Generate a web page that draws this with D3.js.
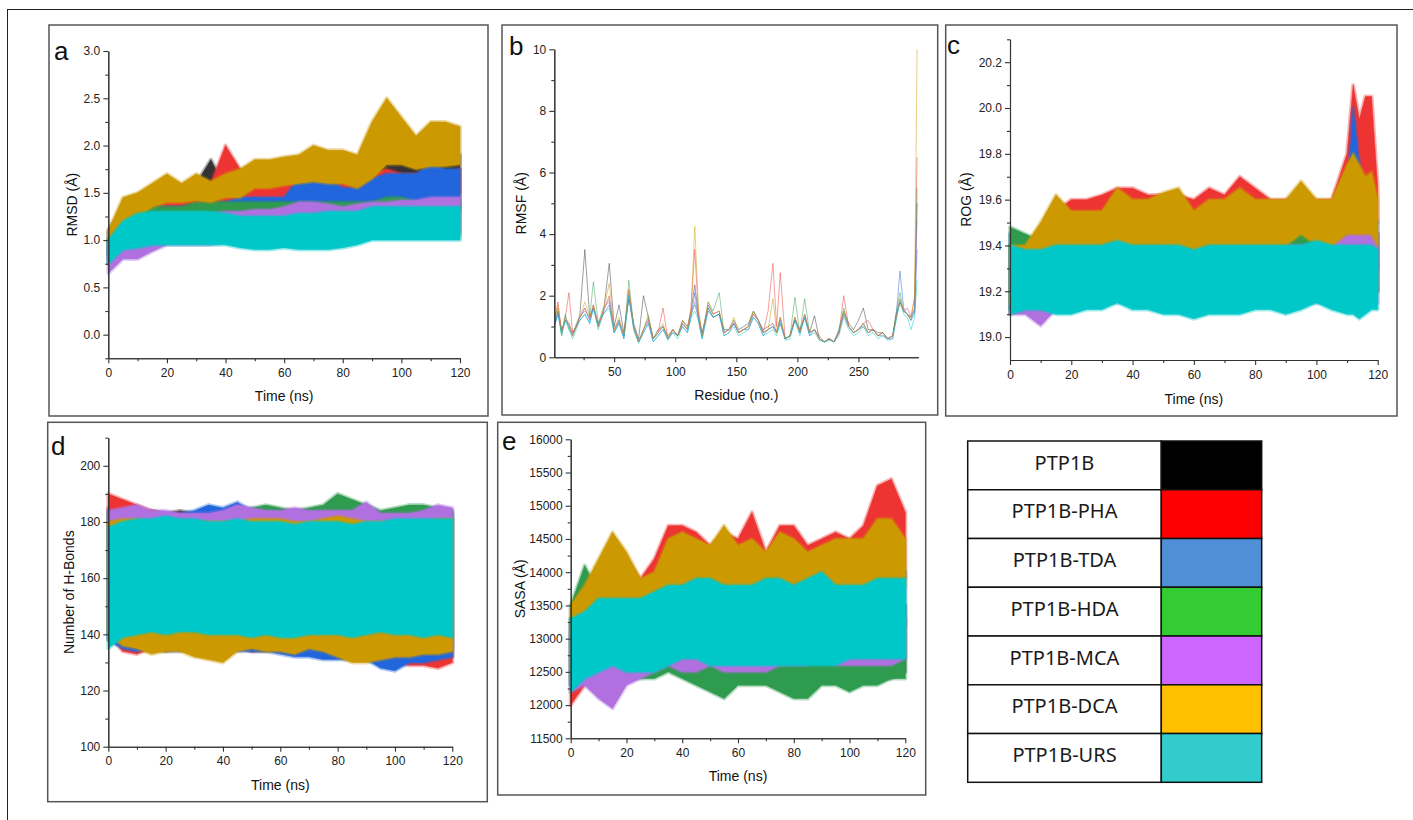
<!DOCTYPE html>
<html>
<head>
<meta charset="utf-8">
<script src="https://cdn.jsdelivr.net/npm/d3@7"></script>
<style>
  body { margin: 0; background: #fff; }
  svg text { font-family: "Liberation Sans", Arial, sans-serif; }
</style>
</head>
<body>
<div id="fig"></div>
<script>
// series, in plot order (last one is drawn on top)
var names = ["PTP1B", "PTP1B-PHA", "PTP1B-TDA", "PTP1B-HDA", "PTP1B-MCA", "PTP1B-DCA", "PTP1B-URS"];
var keyColors = ["#000000", "#ff0000", "#4f8fd6", "#33cc33", "#cc66ff", "#ffc000", "#33cccc"];
var lineColors = ["#333333", "#ee3333", "#2266dd", "#2e9b4e", "#b070e0", "#cc9900", "#00c8c8"];

var time = [0,5,10,15,20,25,30,35,40,45,50,55,60,65,70,75,80,85,90,95,100,105,110,115,120];
var timeRog = [0,5,10,15,20,25,30,35,40,45,50,55,60,65,70,75,80,85,90,95,100,105,110,112,114,116,118,120];
var residues = [1,4,7,10,13,16,19,22,26,30,33,37,41,46,50,54,58,62,66,70,74,78,82,86,90,94,98,102,106,110,
  113,116,119,122,127,131,136,140,144,148,152,156,160,164,168,172,176,180,183,186,190,194,198,202,206,210,214,218,222,226,
  230,234,238,242,246,250,254,258,262,266,270,274,278,281,284,287,290,293,296,298];

// a: RMSD envelope (low / high of the trace) every 5 ns
var rmsdLo = [
  [0.85,1.05,1.12,1.15,1.18,1.2,1.3,1.38,1.25,1.25,1.25,1.28,1.3,1.3,1.3,1.3,1.35,1.35,1.4,1.5,1.5,1.5,1.5,1.5,1.5],
  [0.75,1.0,1.05,1.1,1.15,1.15,1.2,1.3,1.4,1.35,1.35,1.35,1.35,1.3,1.3,1.3,1.3,1.3,1.4,1.4,1.35,1.35,1.35,1.35,1.35],
  [0.75,0.95,1.0,1.05,1.05,1.05,1.08,1.1,1.1,1.15,1.15,1.2,1.2,1.3,1.3,1.3,1.25,1.25,1.3,1.3,1.3,1.3,1.3,1.3,1.3],
  [0.8,0.95,1.0,1.0,1.0,1.02,1.05,1.05,1.05,1.05,1.05,1.05,1.05,1.05,1.05,1.05,1.05,1.05,1.05,1.05,1.05,1.05,1.05,1.05,1.05],
  [0.65,0.8,0.8,0.88,0.95,0.95,0.95,0.95,0.98,0.98,0.98,0.98,1.0,1.0,1.0,1.0,1.0,1.05,1.05,1.05,1.05,1.05,1.05,1.1,1.1],
  [1.0,1.15,1.25,1.35,1.4,1.4,1.42,1.4,1.45,1.45,1.55,1.55,1.58,1.6,1.62,1.6,1.6,1.55,1.65,1.8,1.8,1.75,1.78,1.78,1.8],
  [0.75,0.9,0.92,0.95,0.95,0.95,0.95,0.95,0.95,0.92,0.9,0.9,0.92,0.9,0.9,0.9,0.92,0.95,1.0,1.0,1.0,1.0,1.0,1.0,1.0]
];
var rmsdHi = [
  [1.1,1.35,1.4,1.42,1.45,1.5,1.6,1.85,1.55,1.55,1.55,1.55,1.58,1.6,1.6,1.62,1.65,1.65,1.75,1.85,1.85,1.8,1.85,1.85,1.9],
  [1.0,1.3,1.35,1.4,1.45,1.45,1.5,1.6,2.0,1.75,1.65,1.65,1.65,1.6,1.6,1.6,1.6,1.6,1.7,1.75,1.7,1.7,1.7,1.7,1.75],
  [1.0,1.25,1.3,1.35,1.35,1.35,1.38,1.4,1.4,1.45,1.45,1.45,1.45,1.65,1.65,1.65,1.55,1.55,1.65,1.7,1.7,1.7,1.8,1.75,1.75],
  [1.0,1.3,1.35,1.35,1.35,1.35,1.4,1.4,1.4,1.4,1.4,1.4,1.4,1.4,1.4,1.4,1.4,1.4,1.4,1.45,1.45,1.4,1.4,1.4,1.4],
  [0.95,1.05,1.1,1.15,1.2,1.25,1.25,1.28,1.3,1.3,1.32,1.32,1.35,1.4,1.4,1.38,1.35,1.38,1.4,1.4,1.42,1.42,1.45,1.45,1.45],
  [1.1,1.45,1.5,1.6,1.7,1.6,1.7,1.62,1.7,1.75,1.85,1.85,1.88,1.9,2.0,1.95,1.95,1.9,2.25,2.5,2.3,2.1,2.25,2.25,2.2],
  [1.0,1.2,1.28,1.3,1.3,1.3,1.3,1.3,1.28,1.25,1.25,1.25,1.25,1.28,1.28,1.3,1.3,1.3,1.35,1.35,1.35,1.35,1.35,1.35,1.35]
];

// b: RMSF per residue
var rmsf = [
  [1.0,1.5,0.9,1.2,1.1,0.8,1.0,1.4,3.5,1.3, 1.6,1.1,1.4,3.05,1.0,1.7,0.8,1.9,1.1,0.6, 2.0,1.3,0.6,0.9,1.0,0.7,0.9,0.7,1.2,1.0,
   1.5,2.35,1.4,0.8,1.6,1.3,1.4,0.9,0.9,1.2, 0.9,1.0,1.1,1.5,1.2,0.9,1.0,1.1,0.8,1.3, 0.6,0.7,1.2,0.9,1.3,0.8,1.35,0.6,0.5,0.6,
   0.5,0.9,1.5,1.1,0.9,1.2,1.6,0.9,0.9,0.8, 0.8,0.6,0.7,1.4,1.8,1.5,1.4,1.3,1.5,5.0],
  [1.2,1.8,0.8,1.3,2.1,0.8,1.0,1.3,1.6,1.2, 1.7,1.0,1.5,2.0,0.9,1.2,0.7,2.2,1.0,0.5, 0.9,1.2,0.6,0.8,1.6,0.6,0.9,0.7,1.1,0.9,
   1.6,3.5,1.4,0.7,1.7,1.4,1.5,0.8,0.9,1.1, 0.8,0.9,1.0,1.4,1.2,0.8,1.5,3.05,1.0,2.75, 0.6,0.7,1.3,0.8,1.4,0.8,0.9,0.7,0.5,0.6,
   0.5,0.8,2.0,1.0,0.8,0.9,1.1,1.2,0.9,0.7, 0.8,0.6,0.7,1.3,1.8,1.5,1.6,1.3,1.9,6.5],
  [1.0,1.4,0.8,1.2,1.0,0.7,1.0,1.2,1.4,1.1, 1.6,1.0,1.4,1.7,0.8,1.1,0.6,2.0,0.9,0.5, 0.8,1.1,0.5,0.7,0.9,0.6,0.8,0.7,1.0,0.8,
   1.3,2.1,1.2,0.6,1.5,1.3,1.4,0.7,0.8,1.1, 0.8,0.9,0.9,1.3,1.1,0.7,0.9,1.0,0.8,1.1, 0.6,0.7,1.2,0.8,1.3,0.7,0.9,0.6,0.5,0.6,
   0.5,0.8,1.4,1.0,0.8,0.9,1.0,0.8,0.9,0.7, 0.7,0.6,0.6,1.4,2.8,1.6,1.4,1.2,1.4,3.5],
  [1.2,1.6,0.7,1.4,0.9,0.7,1.1,1.3,1.5,1.3, 2.45,1.1,1.6,1.8,0.8,1.2,0.7,2.5,1.0,0.5, 0.9,1.3,0.6,0.8,1.0,0.6,0.9,0.7,1.1,0.9,
   1.4,1.7,1.3,0.7,1.8,1.5,2.1,0.8,0.9,1.1, 0.8,0.9,1.0,1.5,1.2,0.8,0.9,1.0,0.8,1.2, 0.6,0.7,1.95,0.8,1.9,0.8,0.9,0.6,0.5,0.6,
   0.5,0.8,1.6,1.0,0.8,0.9,1.1,0.8,0.9,0.7, 0.8,0.6,0.7,1.5,2.1,1.5,1.4,1.2,1.6,5.5],
  [1.1,1.5,0.8,1.3,1.0,0.7,1.0,1.3,1.6,1.2, 1.7,1.0,1.5,1.9,0.9,1.2,0.7,2.1,1.0,0.5, 0.9,1.2,0.6,0.8,1.0,0.6,0.9,0.7,1.1,0.9,
   1.4,1.8,1.3,0.7,1.7,1.4,1.5,0.8,0.9,1.1, 0.8,0.9,1.0,1.4,1.2,0.8,0.9,1.0,0.8,1.2, 0.6,0.7,1.3,0.8,1.4,0.8,0.9,0.6,0.5,0.6,
   0.5,0.8,1.4,1.0,0.8,0.9,1.1,0.8,0.9,0.7, 0.8,0.6,0.7,1.3,1.9,1.5,1.4,1.3,1.6,4.5],
  [1.1,1.7,0.8,1.3,1.1,0.7,1.0,1.3,1.8,1.3, 1.7,1.0,1.5,2.4,0.9,1.3,0.7,2.2,1.0,0.5, 0.9,1.4,0.6,0.8,1.1,0.6,0.9,0.7,1.2,0.9,
   1.6,4.25,1.6,0.7,1.8,1.4,1.5,0.8,0.9,1.3, 0.8,0.9,1.0,1.5,1.2,0.8,0.9,1.9,0.8,1.3, 0.6,0.7,1.3,0.8,1.4,0.8,0.9,0.6,0.5,0.6,
   0.5,0.8,1.5,1.0,0.8,0.9,1.1,0.8,0.9,0.7, 0.8,0.6,0.7,1.3,1.9,1.5,1.4,1.3,2.0,10.0],
  [1.0,1.4,0.7,1.2,0.9,0.6,0.9,1.2,1.4,1.1, 1.6,0.9,1.4,1.6,0.8,1.1,0.6,2.0,0.9,0.45, 0.8,1.1,0.5,0.7,0.9,0.55,0.8,0.6,1.0,0.8,
   1.3,1.5,1.2,0.6,1.6,1.3,1.4,0.7,0.8,1.0, 0.7,0.8,0.9,1.3,1.1,0.7,0.8,0.9,0.7,1.1, 0.55,0.6,1.2,0.7,1.3,0.7,0.8,0.55,0.5,0.55,
   0.5,0.7,1.3,0.9,0.7,0.8,1.0,0.7,0.8,0.6, 0.7,0.55,0.6,1.2,1.8,1.4,1.3,0.9,1.3,2.5]
];

// c: radius of gyration envelope
var rogLo = [
  [19.12,19.12,19.15,19.2,19.2,19.2,19.2,19.22,19.22,19.22,19.22,19.22,19.2,19.2,19.2,19.2,19.2,19.2,19.2,19.2,19.2,19.2,19.2,19.2,19.2,19.2,19.2,19.2],
  [19.1,19.15,19.15,19.3,19.35,19.35,19.35,19.45,19.45,19.42,19.42,19.42,19.4,19.45,19.42,19.45,19.42,19.4,19.4,19.4,19.42,19.45,19.5,19.65,19.6,19.6,19.6,19.5],
  [19.2,19.2,19.2,19.22,19.22,19.22,19.22,19.25,19.25,19.25,19.28,19.3,19.25,19.25,19.25,19.25,19.25,19.25,19.25,19.28,19.25,19.25,19.3,19.55,19.4,19.35,19.35,19.3],
  [19.12,19.12,19.15,19.2,19.2,19.2,19.2,19.22,19.22,19.22,19.22,19.22,19.2,19.22,19.22,19.22,19.22,19.2,19.2,19.2,19.2,19.2,19.22,19.25,19.25,19.25,19.25,19.2],
  [19.1,19.1,19.05,19.12,19.15,19.15,19.15,19.15,19.15,19.15,19.15,19.15,19.15,19.15,19.15,19.15,19.15,19.15,19.15,19.15,19.15,19.15,19.15,19.2,19.2,19.2,19.2,19.15],
  [19.15,19.15,19.25,19.35,19.3,19.35,19.3,19.4,19.4,19.4,19.4,19.4,19.35,19.4,19.4,19.4,19.4,19.4,19.4,19.45,19.4,19.4,19.45,19.45,19.45,19.45,19.45,19.4],
  [19.1,19.12,19.12,19.1,19.1,19.12,19.12,19.15,19.12,19.12,19.1,19.1,19.08,19.1,19.1,19.1,19.12,19.12,19.1,19.12,19.15,19.12,19.1,19.1,19.08,19.1,19.12,19.12]
];
var rogHi = [
  [19.4,19.4,19.4,19.42,19.42,19.42,19.42,19.45,19.45,19.45,19.45,19.45,19.42,19.42,19.42,19.42,19.42,19.42,19.42,19.42,19.42,19.42,19.45,19.5,19.5,19.5,19.5,19.45],
  [19.35,19.38,19.4,19.55,19.6,19.6,19.62,19.65,19.65,19.62,19.62,19.62,19.6,19.65,19.62,19.7,19.65,19.6,19.6,19.62,19.6,19.6,19.8,20.1,19.95,20.05,20.05,19.65],
  [19.45,19.42,19.42,19.45,19.45,19.45,19.45,19.48,19.48,19.48,19.5,19.5,19.45,19.45,19.48,19.48,19.48,19.48,19.48,19.52,19.48,19.48,19.6,20.0,19.75,19.6,19.55,19.5],
  [19.48,19.45,19.42,19.45,19.45,19.45,19.45,19.45,19.45,19.45,19.45,19.45,19.42,19.45,19.45,19.45,19.45,19.45,19.45,19.45,19.45,19.45,19.5,19.55,19.55,19.55,19.5,19.45],
  [19.38,19.38,19.38,19.4,19.4,19.4,19.4,19.4,19.45,19.45,19.4,19.4,19.4,19.4,19.4,19.4,19.4,19.4,19.4,19.4,19.4,19.4,19.45,19.5,19.5,19.5,19.5,19.45],
  [19.4,19.4,19.5,19.62,19.55,19.55,19.55,19.65,19.6,19.6,19.63,19.65,19.55,19.6,19.6,19.65,19.6,19.6,19.6,19.68,19.6,19.6,19.75,19.8,19.75,19.7,19.72,19.6],
  [19.4,19.38,19.38,19.4,19.4,19.4,19.4,19.42,19.4,19.4,19.4,19.4,19.38,19.4,19.4,19.4,19.4,19.4,19.4,19.4,19.42,19.4,19.4,19.4,19.4,19.4,19.4,19.38]
];

// d: hydrogen bond count envelope
var hbLo = [
  [138,136,135,136,137,136,135,135,136,136,134,134,135,134,133,134,132,133,131,130,131,133,132,131,132],
  [140,134,133,135,134,135,133,134,136,135,134,135,134,133,133,133,133,131,131,131,130,129,129,128,130],
  [138,135,134,135,134,134,135,135,134,134,134,134,133,132,132,131,131,131,131,128,127,130,130,131,132],
  [140,137,136,136,136,137,137,136,136,136,137,137,136,136,136,136,135,135,135,134,134,134,135,135,136],
  [139,137,137,137,136,136,136,136,136,136,136,136,136,136,136,136,135,135,135,134,134,134,135,135,135],
  [140,136,135,133,134,134,132,131,130,134,135,134,134,133,135,134,132,130,130,131,132,132,133,133,134],
  [135,139,140,141,140,141,141,140,140,140,139,140,139,139,140,140,140,139,140,141,140,140,139,140,139]
];
var hbHi = [
  [185,184,183,184,183,184,183,184,183,182,183,184,182,183,183,182,184,183,183,182,182,182,184,185,183],
  [190,188,186,184,183,183,182,182,182,182,182,182,182,182,181,182,182,182,182,181,181,181,182,181,181],
  [184,183,182,183,182,183,184,186,185,187,184,184,183,183,184,184,183,183,184,183,182,183,183,184,184],
  [183,182,182,182,182,182,182,182,182,183,185,186,185,184,185,186,190,188,186,184,185,186,186,185,184],
  [184,185,186,184,184,183,183,183,184,186,185,184,184,185,184,184,184,184,187,183,183,183,184,186,185],
  [180,181,181,180,180,180,180,180,180,180,181,181,181,180,180,181,182,181,180,180,180,180,180,181,181],
  [178,180,181,181,182,181,181,180,180,181,180,180,180,179,180,180,180,179,180,180,181,181,181,181,181]
];

// e: SASA envelope
var sasaLo = [
  [12300,12400,12500,12500,12500,12500,12500,12600,12600,12500,12400,12400,12400,12400,12400,12500,12400,12400,12500,12400,12400,12400,12400,12400,12500],
  [12000,12300,12500,13200,13300,13200,13300,13700,13700,13600,13500,13500,13500,13600,13400,13700,13600,13500,13500,13400,13500,13600,13900,14000,13900],
  [12300,12600,12800,12900,12900,12900,12900,13000,13000,13000,13000,13000,13000,13000,13000,13000,13000,13000,13000,13000,13100,13100,13200,13300,13200],
  [12300,12500,12400,12400,12400,12400,12400,12500,12400,12300,12200,12100,12300,12300,12300,12200,12100,12100,12300,12300,12200,12300,12300,12400,12400],
  [12200,12300,12100,11950,12300,12400,12500,12600,12500,12500,12600,12500,12500,12500,12500,12600,12600,12600,12700,12600,12600,12600,12600,12600,12700],
  [12400,12900,13300,13500,13500,13200,13300,13600,13700,13700,13600,13600,13500,13600,13500,13700,13600,13600,13600,13500,13600,13700,13800,13900,13800],
  [12200,12400,12500,12600,12500,12500,12500,12600,12700,12700,12600,12600,12600,12600,12600,12600,12600,12600,12600,12600,12700,12700,12700,12700,12700]
];
var sasaHi = [
  [13300,13400,13500,13500,13500,13500,13500,13600,13600,13500,13500,13500,13500,13500,13500,13500,13500,13500,13500,13500,13500,13500,13500,13500,13500],
  [13200,13500,14000,14300,14200,13900,14200,14700,14700,14600,14400,14600,14500,14900,14300,14700,14700,14400,14500,14600,14500,14700,15300,15400,14900],
  [13300,13600,13700,13800,13800,13700,13800,13900,13900,13900,13800,13900,13800,13900,13800,13900,13900,13900,13900,13900,13900,14000,14100,14200,14000],
  [13500,14100,13700,13500,13400,13400,13400,13500,13400,13300,13300,13200,13300,13300,13300,13300,13300,13200,13300,13300,13300,13300,13400,13400,13300],
  [13100,13200,13200,13100,13200,13300,13300,13400,13300,13300,13300,13300,13300,13300,13300,13300,13300,13400,13400,13300,13300,13300,13400,13400,13300],
  [13500,13800,14200,14600,14300,13900,14000,14500,14600,14500,14400,14700,14400,14500,14300,14600,14500,14300,14400,14500,14500,14500,14800,14800,14500],
  [13300,13400,13600,13600,13600,13600,13700,13800,13800,13900,13900,13800,13800,13800,13900,13900,13800,13900,14000,13800,13800,13800,13900,13900,13900]
];

var timeTicks = [0,20,40,60,80,100,120];
var timeMinor = [10,30,50,70,90,110];

var svg = d3.select("#fig").append("svg")
    .attr("width", 1413)
    .attr("height", 820);

// outer frame (only top and left edges are in view)
svg.append("rect")
    .attr("x", 7.5).attr("y", 9.5)
    .attr("width", 1430).attr("height", 840)
    .attr("fill", "none").attr("stroke", "#222").attr("stroke-width", 1);

function drawPanel(p) {
   svg.append("rect")
      .attr("x", p.box[0]).attr("y", p.box[1])
      .attr("width", p.box[2] - p.box[0]).attr("height", p.box[3] - p.box[1])
      .attr("fill", "none").attr("stroke", "#555").attr("stroke-width", 1.5);

   var x = d3.scaleLinear().domain(p.xDomain).range([p.plot[0], p.plot[2]]);
   var y = d3.scaleLinear().domain(p.yDomain).range([p.plot[3], p.plot[1]]);

   var g = svg.append("g");
   if (p.lo) {
      p.lo.forEach(function(lo, s) {
         var hi = p.hi[s];
         var area = d3.area()
            .x(function(d, i) { return x(p.xs[i]); })
            .y0(function(d, i) { return y(lo[i]); })
            .y1(function(d, i) { return y(hi[i]); });
         // soft fringe like the thin spikes of the raw trace
         g.append("path")
            .attr("d", area(lo))
            .attr("fill", "none")
            .attr("stroke", lineColors[s])
            .attr("stroke-opacity", 0.35)
            .attr("stroke-linejoin", "round")
            .attr("stroke-width", 4);
         g.append("path")
            .attr("d", area(lo))
            .attr("fill", lineColors[s])
            .attr("stroke", lineColors[s])
            .attr("stroke-width", 0.6);
      });
   } else {
      p.lines.forEach(function(vals, s) {
         var line = d3.line()
            .x(function(d, i) { return x(p.xs[i]); })
            .y(function(d) { return y(d); });
         g.append("path")
            .attr("d", line(vals))
            .attr("fill", "none")
            .attr("stroke", lineColors[s])
            .attr("stroke-opacity", 0.6)
            .attr("stroke-width", 0.8);
      });
   }

   // axes: minor ticks first, then labelled majors
   var xb = svg.append("g").attr("transform", "translate(0," + p.plot[3] + ")");
   xb.append("g").call(d3.axisBottom(x).tickValues(p.xMinor).tickSize(3).tickSizeOuter(0).tickFormat(""));
   xb.append("g").call(d3.axisBottom(x).tickValues(p.xTicks).tickSize(5).tickSizeOuter(0).tickPadding(5));
   var yl = svg.append("g").attr("transform", "translate(" + p.plot[0] + ",0)");
   yl.append("g").call(d3.axisLeft(y).tickValues(p.yMinor).tickSize(3).tickSizeOuter(0).tickFormat(""));
   yl.append("g").call(d3.axisLeft(y).tickValues(p.yTicks).tickSize(5).tickSizeOuter(0).tickPadding(3)
      .tickFormat(p.yFormat));

   svg.selectAll(".domain, .tick line").attr("stroke", "#333").attr("stroke-width", 1.1);
   svg.selectAll(".tick text").attr("fill", "#222").style("font-size", "12px");

   svg.append("text")
      .attr("x", (p.plot[0] + p.plot[2]) / 2).attr("y", p.xTitleY)
      .attr("text-anchor", "middle").style("font-size", "14px").attr("fill", "#111")
      .text(p.xTitle);
   svg.append("text")
      .attr("transform", "translate(" + p.yTitleX + "," + ((p.plot[1] + p.plot[3]) / 2) + ") rotate(-90)")
      .attr("text-anchor", "middle").style("font-size", "14px").attr("fill", "#111")
      .text(p.yTitle);
   svg.append("text")
      .attr("x", p.letter[0]).attr("y", p.letter[1])
      .style("font-size", "26px").attr("fill", "#111")
      .text(p.tag);
}

drawPanel({
   tag: "a", letter: [54, 60],
   box: [49, 25, 488, 416], plot: [108.3, 51, 460, 358.3],
   xDomain: [0, 120], yDomain: [-0.25, 3],
   xTicks: timeTicks, xMinor: timeMinor,
   yTicks: [0, 0.5, 1, 1.5, 2, 2.5, 3], yMinor: [-0.25, 0.25, 0.75, 1.25, 1.75, 2.25, 2.75],
   yFormat: d3.format(".1f"),
   xs: time, lo: rmsdLo, hi: rmsdHi,
   xTitle: "Time (ns)", xTitleY: 401, yTitle: "RMSD (Å)", yTitleX: 77
});

drawPanel({
   tag: "b", letter: [509, 55],
   box: [502, 25, 937.7, 415], plot: [554.3, 49.3, 918.3, 357.3],
   xDomain: [1, 299], yDomain: [0, 10],
   xTicks: [50, 100, 150, 200, 250], xMinor: [25, 75, 125, 175, 225, 275],
   yTicks: [0, 2, 4, 6, 8, 10], yMinor: [1, 3, 5, 7, 9],
   yFormat: d3.format("d"),
   xs: residues, lines: rmsf,
   xTitle: "Residue (no.)", xTitleY: 400, yTitle: "RMSF (Å)", yTitleX: 526
});

drawPanel({
   tag: "c", letter: [947, 54],
   box: [945.7, 25, 1397, 416], plot: [1010, 39.3, 1377.7, 360],
   xDomain: [0, 120], yDomain: [18.9, 20.3],
   xTicks: timeTicks, xMinor: timeMinor,
   yTicks: [19.0, 19.2, 19.4, 19.6, 19.8, 20.0, 20.2], yMinor: [19.1, 19.3, 19.5, 19.7, 19.9, 20.1, 20.3],
   yFormat: d3.format(".1f"),
   xs: timeRog, lo: rogLo, hi: rogHi,
   xTitle: "Time (ns)", xTitleY: 404, yTitle: "ROG (Å)", yTitleX: 971
});

drawPanel({
   tag: "d", letter: [51, 455],
   box: [47.7, 422.3, 487.3, 801.7], plot: [108.3, 437.7, 452.3, 746.7],
   xDomain: [0, 120], yDomain: [100, 210],
   xTicks: timeTicks, xMinor: timeMinor,
   yTicks: [100, 120, 140, 160, 180, 200], yMinor: [110, 130, 150, 170, 190, 210],
   yFormat: d3.format("d"),
   xs: time, lo: hbLo, hi: hbHi,
   xTitle: "Time (ns)", xTitleY: 790, yTitle: "Number of H-Bonds", yTitleX: 74
});

drawPanel({
   tag: "e", letter: [502, 450],
   box: [497.7, 422.3, 925.7, 795], plot: [570.7, 439.3, 905.3, 738.3],
   xDomain: [0, 120], yDomain: [11500, 16000],
   xTicks: timeTicks, xMinor: timeMinor,
   yTicks: [11500, 12000, 12500, 13000, 13500, 14000, 14500, 15000, 15500, 16000],
   yMinor: [11750, 12250, 12750, 13250, 13750, 14250, 14750, 15250, 15750],
   yFormat: d3.format("d"),
   xs: time, lo: sasaLo, hi: sasaHi,
   xTitle: "Time (ns)", xTitleY: 781, yTitle: "SASA (Å)", yTitleX: 525
});

// colour key table
var key = svg.append("g");
var rowY = d3.scaleBand().domain(names).range([441, 782.3]);
var kx0 = 967.7, kx1 = 1161.3, kx2 = 1261.7;
names.forEach(function(n, i) {
   var top = rowY(n), h = rowY.bandwidth();
   key.append("rect").attr("x", kx0).attr("y", top).attr("width", kx1 - kx0).attr("height", h)
      .attr("fill", "#fff").attr("stroke", "#111").attr("stroke-width", 1.5);
   key.append("rect").attr("x", kx1).attr("y", top).attr("width", kx2 - kx1).attr("height", h)
      .attr("fill", keyColors[i]).attr("stroke", "#111").attr("stroke-width", 1.5);
   key.append("text")
      .attr("x", (kx0 + kx1) / 2).attr("y", top + 28.5)
      .attr("text-anchor", "middle")
      .style("font-family", "'Noto Sans', sans-serif").style("font-size", "20px").attr("fill", "#1a1a1a")
      .text(n);
});
</script>
</body>
</html>
